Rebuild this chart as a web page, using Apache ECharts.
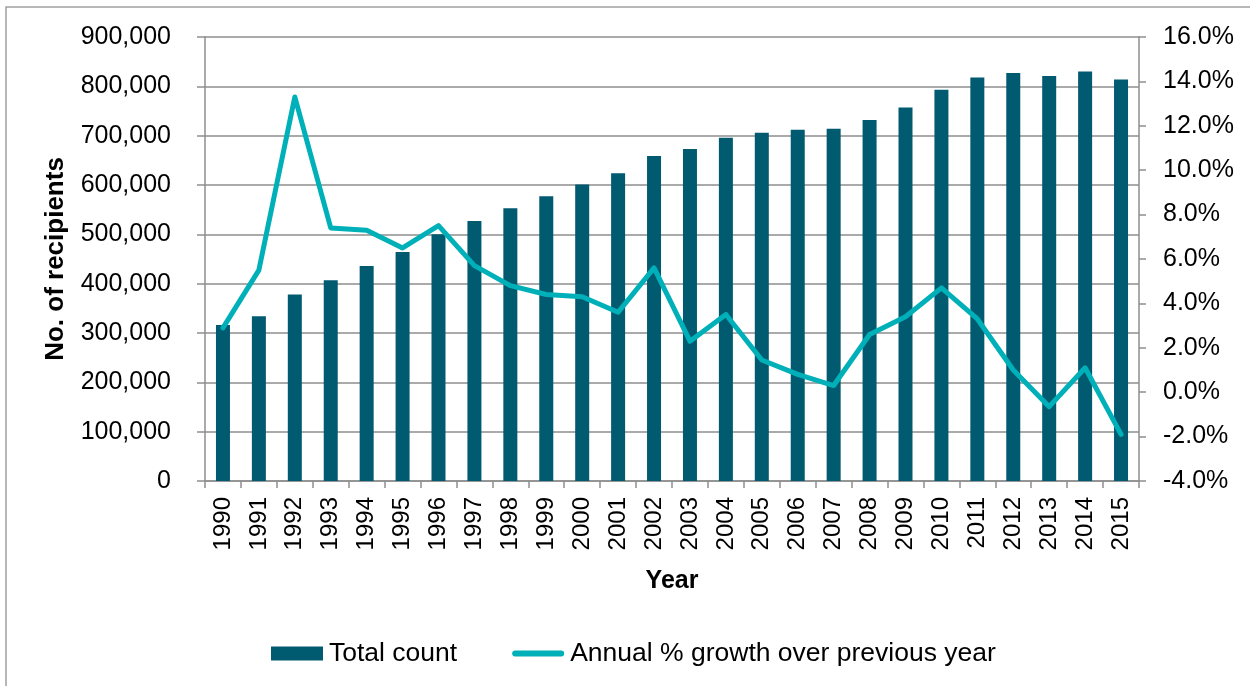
<!DOCTYPE html>
<html>
<head>
<meta charset="utf-8">
<script src="https://cdn.jsdelivr.net/npm/echarts@6/dist/echarts.min.js"></script>
<style>
html,body{margin:0;padding:0;background:#fff;}
#chart{width:1250px;height:686px;}
</style>
</head>
<body>
<div id="chart"></div>
<script>
var years = ['1990','1991','1992','1993','1994','1995','1996','1997','1998','1999','2000','2001','2002','2003','2004','2005','2006','2007','2008','2009','2010','2011','2012','2013','2014','2015'];
var totalCount = [316000,334000,378000,407000,436000,464000,500000,527000,553000,577000,601000,624000,659000,673000,696000,706000,712000,714000,732000,757000,793000,818000,827000,821000,830000,814000];
var growthPct = [2.9,5.5,13.3,7.4,7.3,6.5,7.5,5.7,4.8,4.4,4.3,3.6,5.6,2.3,3.5,1.45,0.8,0.3,2.6,3.4,4.7,3.3,1.0,-0.65,1.1,-1.9];
var seriesNames = ['Total count','Annual % growth over previous year'];

var FONT = '"Liberation Sans", Arial, sans-serif';
var GRID_COLOR = '#8e8e8e';

var chart = echarts.init(document.getElementById('chart'), null, {renderer:'canvas'});
chart.setOption({
  backgroundColor:'#ffffff',
  animation:false,
  textStyle:{fontFamily:FONT, color:'#000'},
  graphic:[{
    type:'rect', silent:true, z:-10,
    shape:{x:6, y:7, width:1300, height:700},
    style:{fill:'none', stroke:'#a0a0a0', lineWidth:1.5}
  }],
  grid:{left:205, right:111, top:37, bottom:205, containLabel:false},
  legend:{
    left:266, top:635,
    itemWidth:52, itemHeight:14, itemGap:55,
    textStyle:{fontFamily:FONT, fontSize:26.5, color:'#000', padding:[0,0,0,1]},
    data:[
      {name:seriesNames[0], icon:'rect'},
      {name:seriesNames[1],
       icon:'path://M0,0 M0,14 M3,4 L49,4 A3,3 0 0 1 49,10 L3,10 A3,3 0 0 1 3,4 Z',
       itemStyle:{color:'#00b0b9', borderWidth:0},
       lineStyle:{opacity:0, width:0}}
    ]
  },
  xAxis:{
    type:'category',
    data:years,
    boundaryGap:true,
    name:'Year',
    nameLocation:'middle',
    nameGap:88,
    nameTextStyle:{fontFamily:FONT, fontSize:25, fontWeight:'bold', color:'#000'},
    axisLine:{lineStyle:{color:GRID_COLOR, width:1.5}},
    axisTick:{show:true, alignWithLabel:false, length:7, lineStyle:{color:GRID_COLOR, width:1.5}},
    axisLabel:{rotate:90, margin:16, fontFamily:FONT, fontSize:24, color:'#000', interval:0}
  },
  yAxis:[{
    type:'value',
    min:0, max:900000, interval:100000,
    name:'No. of recipients',
    nameLocation:'middle',
    nameRotate:90,
    nameGap:136,
    nameTextStyle:{fontFamily:FONT, fontSize:26, fontWeight:'bold', color:'#000'},
    axisLine:{show:true, lineStyle:{color:GRID_COLOR, width:1.5}},
    axisTick:{show:true, length:8, lineStyle:{color:GRID_COLOR, width:1.5}},
    splitLine:{show:true, lineStyle:{color:GRID_COLOR, width:1.5}},
    axisLabel:{margin:34, fontFamily:FONT, fontSize:25, color:'#000',
      formatter:function(v){return v.toString().replace(/\B(?=(\d{3})+(?!\d))/g, ',');}}
  },{
    type:'value',
    min:-4, max:16, interval:2,
    position:'right',
    axisLine:{show:true, lineStyle:{color:GRID_COLOR, width:1.5}},
    axisTick:{show:true, length:7, lineStyle:{color:GRID_COLOR, width:1.5}},
    splitLine:{show:false},
    axisLabel:{margin:24, fontFamily:FONT, fontSize:25, color:'#000',
      formatter:function(v){return v.toFixed(1)+'%';}}
  }],
  series:[{
    name:seriesNames[0],
    type:'bar',
    yAxisIndex:0,
    data:totalCount,
    barWidth:14,
    itemStyle:{color:'#005a70'}
  },{
    name:seriesNames[1],
    type:'line',
    yAxisIndex:1,
    data:growthPct,
    symbol:'none',
    lineStyle:{color:'#00b0b9', width:5, cap:'round', join:'round'},
    itemStyle:{color:'#00b0b9'}
  }]
});
</script>
</body>
</html>
